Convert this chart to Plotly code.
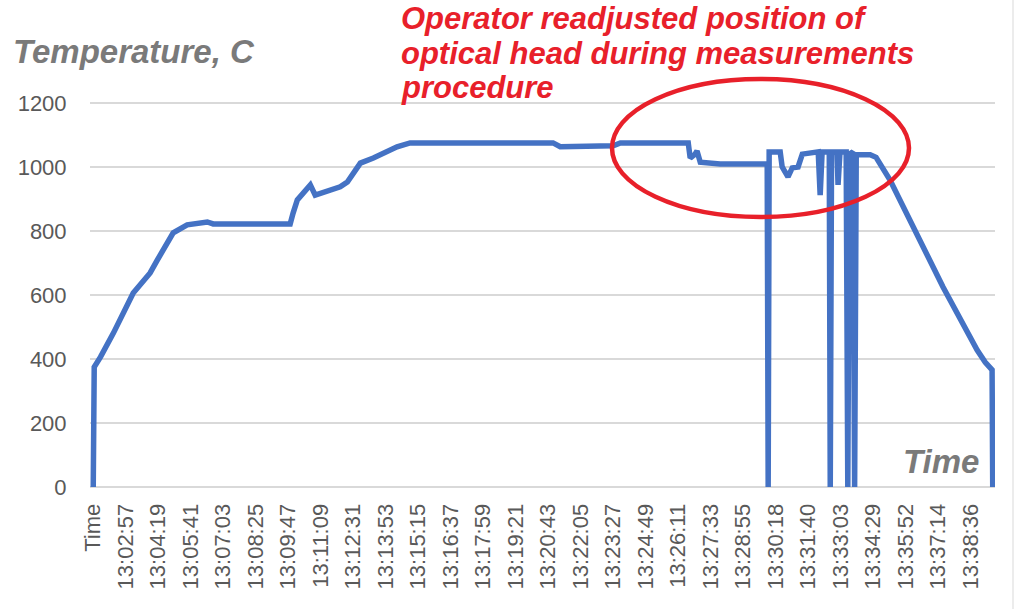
import plotly.graph_objects as go

# ---- data ----
tick_labels = ["Time", "13:02:57", "13:04:19", "13:05:41", "13:07:03", "13:08:25",
               "13:09:47", "13:11:09", "13:12:31", "13:13:53", "13:15:15", "13:16:37",
               "13:17:59", "13:19:21", "13:20:43", "13:22:05", "13:23:27", "13:24:49",
               "13:26:11", "13:27:33", "13:28:55", "13:30:18", "13:31:40", "13:33:03",
               "13:34:29", "13:35:52", "13:37:14", "13:38:36"]

# position along the category axis (in units of tick-label steps)
x_pos = [0.00, 0.03, 0.22, 0.62, 1.23, 1.75, 1.97, 2.46, 2.89, 3.51, 3.69,
         6.06, 6.15, 6.28, 6.68, 6.83, 7.60, 7.82, 8.22, 8.62, 9.35, 9.75,
         14.15, 14.37, 16.00, 16.22, 18.31, 18.37, 18.52, 18.58, 18.68, 19.29,
         20.74, 20.77, 20.80, 21.14, 21.20, 21.38, 21.51, 21.69, 21.82, 22.31,
         22.37, 22.43, 22.65, 22.68, 22.72, 22.89, 22.92, 22.98, 23.17, 23.22,
         23.27, 23.38, 23.43, 23.48, 23.91, 24.09, 24.52, 25.14, 26.15, 27.20,
         27.45, 27.66, 27.68]
temperature = [0, 375, 406, 481, 606, 669, 709, 794, 819, 828, 822,
               822, 856, 897, 944, 912, 938, 953, 1012, 1028, 1063, 1075,
               1075, 1063, 1066, 1075, 1075, 1028, 1040, 1050, 1015, 1009,
               1009, 0, 1047, 1047, 1000, 969, 997, 1000, 1040, 1047,
               912, 1047, 1047, 0, 1047, 1047, 944, 1047, 1047, 0,
               1040, 1047, 0, 1038, 1038, 1030, 959, 834, 625, 428,
               390, 366, 0]

y_ticks = [0, 200, 400, 600, 800, 1000, 1200]

# ---- layout geometry ----
W, H = 1024, 609
x_range = [-0.1, 27.75]
y_range = [-6, 1206]
ML, MR, MT, MB = 90, 29, 101, 120
plot_w = W - ML - MR
plot_h = H - MT - MB


def px(xp):
    return (xp - ML) / plot_w


def py(yp):
    return (H - MB - yp) / plot_h


gray_txt = "#595959"
red = "#E8202A"

fig = go.Figure()
fig.add_trace(go.Scatter(
    x=x_pos, y=temperature, mode="lines",
    line=dict(color="#4472C4", width=5.5, shape="linear"),
    hoverinfo="skip", showlegend=False,
))

fig.update_layout(
    width=W, height=H,
    margin=dict(l=ML, r=MR, t=MT, b=MB, autoexpand=False),
    paper_bgcolor="white", plot_bgcolor="white",
    font=dict(family="Liberation Sans, Arial, sans-serif", color=gray_txt),
    xaxis=dict(
        range=x_range, tickmode="array", tickvals=list(range(len(tick_labels))),
        ticktext=tick_labels, tickangle=-90, showgrid=False, zeroline=False,
        showline=False, ticks="outside", ticklen=5, tickcolor="rgba(0,0,0,0)",
        tickfont=dict(size=22, color=gray_txt),
    ),
    yaxis=dict(
        range=y_range, tickmode="array", tickvals=y_ticks,
        showgrid=True, gridcolor="#D9D9D9", gridwidth=2,
        zeroline=True, zerolinecolor="#D9D9D9", zerolinewidth=2,
        showline=False, ticks="outside", ticklen=18, tickcolor="rgba(0,0,0,0)",
        tickfont=dict(size=22, color=gray_txt),
    ),
    shapes=[
        dict(type="circle", xref="paper", yref="paper",
             x0=px(612), x1=px(909), y0=py(217), y1=py(79),
             line=dict(color=red, width=4.5)),
        dict(type="line", xref="paper", yref="paper",
             x0=px(1013), x1=px(1013), y0=py(0), y1=py(609),
             line=dict(color="#E6E6E6", width=1.5)),
    ],
)

title_font = dict(family="Liberation Sans, Arial, sans-serif", size=33,
                  color="#7A7A7A", weight="bold", style="italic")
fig.add_annotation(text="Temperature, C", xref="paper", yref="paper",
                   x=px(11), y=py(51), xanchor="left", yanchor="middle",
                   showarrow=False, font=title_font)
fig.add_annotation(text="Time", xref="paper", yref="paper",
                   x=px(981), y=py(461), xanchor="right", yanchor="middle",
                   showarrow=False, font=title_font)

red_font = dict(family="Liberation Sans, Arial, sans-serif", size=31,
                color=red, weight="bold", style="italic")
red_lines = ["Operator readjusted position of",
             "optical head during measurements",
             "procedure"]
for i, (line, yc) in enumerate(zip(red_lines, [18, 53, 88])):
    fig.add_annotation(text=line, xref="paper", yref="paper",
                       x=px(399), y=py(yc), xanchor="left", yanchor="middle",
                       showarrow=False, font=red_font)

fig.write_html("out.html")
